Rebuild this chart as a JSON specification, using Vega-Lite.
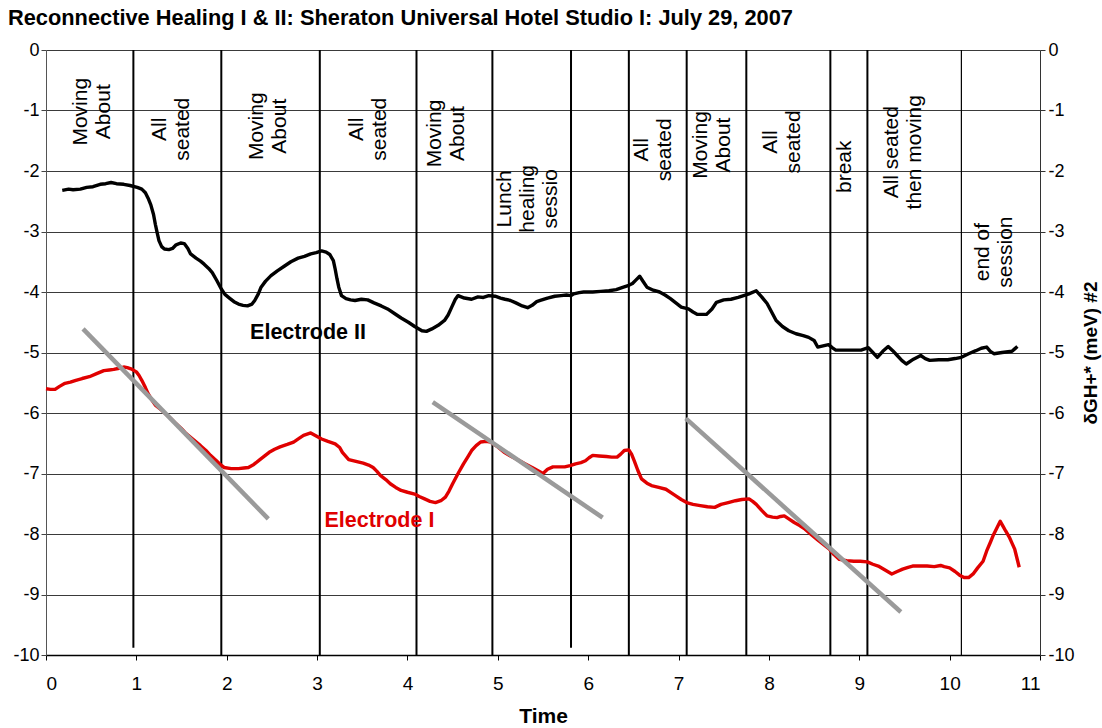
{
  "$schema": "https://vega.github.io/schema/vega-lite/v6.json",
  "width": 994,
  "height": 605,
  "autosize": {"type": "none"},
  "padding": {"left": 46, "top": 50, "right": 62, "bottom": 73},
  "background": "white",
  "title": {
    "text": "Reconnective Healing I & II: Sheraton Universal Hotel Studio I: July 29, 2007",
    "anchor": "start", "frame": "group", "dx": -38, "dy": 22, "offset": 16,
    "font": "Liberation Sans", "fontSize": 21.8, "fontWeight": "bold", "color": "black", "baseline": "alphabetic"
  },
  "config": {
    "view": {"stroke": null},
    "axis": {"labelFont": "Liberation Sans", "titleFont": "Liberation Sans", "labelColor": "black", "titleColor": "black", "tickColor": "#333", "domainColor": "#333", "tickSize": 5}
  },
  "datasets": {
    "events": [
      {"t": 0.967, "bottom": -9.88}, {"t": 1.94, "bottom": -10}, {"t": 3.03, "bottom": -10}, {"t": 4.10, "bottom": -10},
      {"t": 4.94, "bottom": -10}, {"t": 5.81, "bottom": -9.88}, {"t": 6.45, "bottom": -10}, {"t": 7.09, "bottom": -10},
      {"t": 7.75, "bottom": -10}, {"t": 8.68, "bottom": -10}, {"t": 9.09, "bottom": -10}, {"t": 10.13, "bottom": -10}
    ],
    "traces": [
      {"series": "Electrode II", "t": 0.18, "v": -2.32}, {"series": "Electrode II", "t": 0.25, "v": -2.30}, {"series": "Electrode II", "t": 0.30, "v": -2.31}, {"series": "Electrode II", "t": 0.38, "v": -2.30},
      {"series": "Electrode II", "t": 0.45, "v": -2.27}, {"series": "Electrode II", "t": 0.52, "v": -2.26}, {"series": "Electrode II", "t": 0.60, "v": -2.22}, {"series": "Electrode II", "t": 0.66, "v": -2.21},
      {"series": "Electrode II", "t": 0.72, "v": -2.19}, {"series": "Electrode II", "t": 0.78, "v": -2.21}, {"series": "Electrode II", "t": 0.86, "v": -2.22}, {"series": "Electrode II", "t": 0.93, "v": -2.24},
      {"series": "Electrode II", "t": 1.01, "v": -2.27}, {"series": "Electrode II", "t": 1.06, "v": -2.30}, {"series": "Electrode II", "t": 1.10, "v": -2.36}, {"series": "Electrode II", "t": 1.13, "v": -2.45},
      {"series": "Electrode II", "t": 1.16, "v": -2.56}, {"series": "Electrode II", "t": 1.19, "v": -2.72}, {"series": "Electrode II", "t": 1.21, "v": -2.88}, {"series": "Electrode II", "t": 1.23, "v": -3.02},
      {"series": "Electrode II", "t": 1.25, "v": -3.15}, {"series": "Electrode II", "t": 1.28, "v": -3.25}, {"series": "Electrode II", "t": 1.31, "v": -3.29}, {"series": "Electrode II", "t": 1.36, "v": -3.30},
      {"series": "Electrode II", "t": 1.40, "v": -3.28}, {"series": "Electrode II", "t": 1.44, "v": -3.22}, {"series": "Electrode II", "t": 1.49, "v": -3.19}, {"series": "Electrode II", "t": 1.53, "v": -3.20},
      {"series": "Electrode II", "t": 1.57, "v": -3.28}, {"series": "Electrode II", "t": 1.60, "v": -3.37}, {"series": "Electrode II", "t": 1.66, "v": -3.44}, {"series": "Electrode II", "t": 1.71, "v": -3.49},
      {"series": "Electrode II", "t": 1.75, "v": -3.54}, {"series": "Electrode II", "t": 1.80, "v": -3.61}, {"series": "Electrode II", "t": 1.84, "v": -3.68}, {"series": "Electrode II", "t": 1.89, "v": -3.81},
      {"series": "Electrode II", "t": 1.94, "v": -3.95}, {"series": "Electrode II", "t": 1.98, "v": -4.04}, {"series": "Electrode II", "t": 2.03, "v": -4.10}, {"series": "Electrode II", "t": 2.08, "v": -4.16},
      {"series": "Electrode II", "t": 2.13, "v": -4.20}, {"series": "Electrode II", "t": 2.18, "v": -4.22}, {"series": "Electrode II", "t": 2.23, "v": -4.23}, {"series": "Electrode II", "t": 2.28, "v": -4.20},
      {"series": "Electrode II", "t": 2.31, "v": -4.14}, {"series": "Electrode II", "t": 2.35, "v": -4.03}, {"series": "Electrode II", "t": 2.38, "v": -3.92}, {"series": "Electrode II", "t": 2.43, "v": -3.82},
      {"series": "Electrode II", "t": 2.49, "v": -3.73}, {"series": "Electrode II", "t": 2.56, "v": -3.65}, {"series": "Electrode II", "t": 2.64, "v": -3.57}, {"series": "Electrode II", "t": 2.71, "v": -3.50},
      {"series": "Electrode II", "t": 2.79, "v": -3.44}, {"series": "Electrode II", "t": 2.86, "v": -3.41}, {"series": "Electrode II", "t": 2.93, "v": -3.37}, {"series": "Electrode II", "t": 2.99, "v": -3.35},
      {"series": "Electrode II", "t": 3.05, "v": -3.32}, {"series": "Electrode II", "t": 3.10, "v": -3.34}, {"series": "Electrode II", "t": 3.14, "v": -3.38}, {"series": "Electrode II", "t": 3.18, "v": -3.48},
      {"series": "Electrode II", "t": 3.20, "v": -3.62}, {"series": "Electrode II", "t": 3.22, "v": -3.78}, {"series": "Electrode II", "t": 3.24, "v": -3.92}, {"series": "Electrode II", "t": 3.27, "v": -4.06},
      {"series": "Electrode II", "t": 3.32, "v": -4.11}, {"series": "Electrode II", "t": 3.37, "v": -4.13}, {"series": "Electrode II", "t": 3.42, "v": -4.14}, {"series": "Electrode II", "t": 3.49, "v": -4.12},
      {"series": "Electrode II", "t": 3.56, "v": -4.13}, {"series": "Electrode II", "t": 3.63, "v": -4.18}, {"series": "Electrode II", "t": 3.71, "v": -4.23}, {"series": "Electrode II", "t": 3.78, "v": -4.28},
      {"series": "Electrode II", "t": 3.86, "v": -4.36}, {"series": "Electrode II", "t": 3.93, "v": -4.43}, {"series": "Electrode II", "t": 4.01, "v": -4.50}, {"series": "Electrode II", "t": 4.08, "v": -4.57},
      {"series": "Electrode II", "t": 4.16, "v": -4.64}, {"series": "Electrode II", "t": 4.21, "v": -4.65}, {"series": "Electrode II", "t": 4.27, "v": -4.61}, {"series": "Electrode II", "t": 4.34, "v": -4.55},
      {"series": "Electrode II", "t": 4.41, "v": -4.47}, {"series": "Electrode II", "t": 4.45, "v": -4.38}, {"series": "Electrode II", "t": 4.49, "v": -4.25}, {"series": "Electrode II", "t": 4.53, "v": -4.12},
      {"series": "Electrode II", "t": 4.56, "v": -4.06}, {"series": "Electrode II", "t": 4.63, "v": -4.10}, {"series": "Electrode II", "t": 4.71, "v": -4.12}, {"series": "Electrode II", "t": 4.78, "v": -4.08},
      {"series": "Electrode II", "t": 4.84, "v": -4.09}, {"series": "Electrode II", "t": 4.90, "v": -4.06}, {"series": "Electrode II", "t": 4.97, "v": -4.07}, {"series": "Electrode II", "t": 5.03, "v": -4.10},
      {"series": "Electrode II", "t": 5.08, "v": -4.12}, {"series": "Electrode II", "t": 5.14, "v": -4.14}, {"series": "Electrode II", "t": 5.20, "v": -4.18}, {"series": "Electrode II", "t": 5.27, "v": -4.23},
      {"series": "Electrode II", "t": 5.33, "v": -4.26}, {"series": "Electrode II", "t": 5.38, "v": -4.22}, {"series": "Electrode II", "t": 5.43, "v": -4.16}, {"series": "Electrode II", "t": 5.47, "v": -4.14},
      {"series": "Electrode II", "t": 5.55, "v": -4.10}, {"series": "Electrode II", "t": 5.63, "v": -4.07}, {"series": "Electrode II", "t": 5.70, "v": -4.06}, {"series": "Electrode II", "t": 5.76, "v": -4.05},
      {"series": "Electrode II", "t": 5.81, "v": -4.06}, {"series": "Electrode II", "t": 5.84, "v": -4.03}, {"series": "Electrode II", "t": 5.90, "v": -4.01}, {"series": "Electrode II", "t": 5.95, "v": -4.00},
      {"series": "Electrode II", "t": 6.05, "v": -4.00}, {"series": "Electrode II", "t": 6.14, "v": -3.99}, {"series": "Electrode II", "t": 6.23, "v": -3.98}, {"series": "Electrode II", "t": 6.31, "v": -3.96},
      {"series": "Electrode II", "t": 6.39, "v": -3.92}, {"series": "Electrode II", "t": 6.45, "v": -3.89}, {"series": "Electrode II", "t": 6.49, "v": -3.86}, {"series": "Electrode II", "t": 6.53, "v": -3.80},
      {"series": "Electrode II", "t": 6.57, "v": -3.74}, {"series": "Electrode II", "t": 6.61, "v": -3.83}, {"series": "Electrode II", "t": 6.65, "v": -3.92}, {"series": "Electrode II", "t": 6.72, "v": -3.97},
      {"series": "Electrode II", "t": 6.79, "v": -4.00}, {"series": "Electrode II", "t": 6.85, "v": -4.05}, {"series": "Electrode II", "t": 6.91, "v": -4.11}, {"series": "Electrode II", "t": 6.97, "v": -4.18},
      {"series": "Electrode II", "t": 7.03, "v": -4.25}, {"series": "Electrode II", "t": 7.11, "v": -4.28}, {"series": "Electrode II", "t": 7.16, "v": -4.33}, {"series": "Electrode II", "t": 7.21, "v": -4.37},
      {"series": "Electrode II", "t": 7.31, "v": -4.37}, {"series": "Electrode II", "t": 7.37, "v": -4.28}, {"series": "Electrode II", "t": 7.42, "v": -4.17}, {"series": "Electrode II", "t": 7.50, "v": -4.13},
      {"series": "Electrode II", "t": 7.58, "v": -4.12}, {"series": "Electrode II", "t": 7.66, "v": -4.09}, {"series": "Electrode II", "t": 7.72, "v": -4.06}, {"series": "Electrode II", "t": 7.78, "v": -4.03},
      {"series": "Electrode II", "t": 7.86, "v": -3.98}, {"series": "Electrode II", "t": 7.92, "v": -4.08}, {"series": "Electrode II", "t": 7.98, "v": -4.19}, {"series": "Electrode II", "t": 8.03, "v": -4.33},
      {"series": "Electrode II", "t": 8.08, "v": -4.47}, {"series": "Electrode II", "t": 8.15, "v": -4.57}, {"series": "Electrode II", "t": 8.22, "v": -4.64}, {"series": "Electrode II", "t": 8.30, "v": -4.69},
      {"series": "Electrode II", "t": 8.38, "v": -4.72}, {"series": "Electrode II", "t": 8.44, "v": -4.75}, {"series": "Electrode II", "t": 8.50, "v": -4.80}, {"series": "Electrode II", "t": 8.54, "v": -4.91},
      {"series": "Electrode II", "t": 8.60, "v": -4.89}, {"series": "Electrode II", "t": 8.66, "v": -4.87}, {"series": "Electrode II", "t": 8.70, "v": -4.92}, {"series": "Electrode II", "t": 8.74, "v": -4.96},
      {"series": "Electrode II", "t": 8.85, "v": -4.96}, {"series": "Electrode II", "t": 8.95, "v": -4.96}, {"series": "Electrode II", "t": 9.02, "v": -4.96}, {"series": "Electrode II", "t": 9.10, "v": -4.92},
      {"series": "Electrode II", "t": 9.15, "v": -5.00}, {"series": "Electrode II", "t": 9.20, "v": -5.08}, {"series": "Electrode II", "t": 9.26, "v": -4.98}, {"series": "Electrode II", "t": 9.32, "v": -4.90},
      {"series": "Electrode II", "t": 9.37, "v": -4.97}, {"series": "Electrode II", "t": 9.42, "v": -5.05}, {"series": "Electrode II", "t": 9.47, "v": -5.13}, {"series": "Electrode II", "t": 9.52, "v": -5.19},
      {"series": "Electrode II", "t": 9.60, "v": -5.11}, {"series": "Electrode II", "t": 9.68, "v": -5.05}, {"series": "Electrode II", "t": 9.73, "v": -5.10}, {"series": "Electrode II", "t": 9.78, "v": -5.13},
      {"series": "Electrode II", "t": 9.88, "v": -5.12}, {"series": "Electrode II", "t": 9.98, "v": -5.12}, {"series": "Electrode II", "t": 10.06, "v": -5.10}, {"series": "Electrode II", "t": 10.13, "v": -5.08},
      {"series": "Electrode II", "t": 10.21, "v": -5.02}, {"series": "Electrode II", "t": 10.29, "v": -4.97}, {"series": "Electrode II", "t": 10.35, "v": -4.93}, {"series": "Electrode II", "t": 10.41, "v": -4.91},
      {"series": "Electrode II", "t": 10.45, "v": -4.98}, {"series": "Electrode II", "t": 10.49, "v": -5.02}, {"series": "Electrode II", "t": 10.58, "v": -5.00}, {"series": "Electrode II", "t": 10.69, "v": -4.98},
      {"series": "Electrode II", "t": 10.72, "v": -4.94}, {"series": "Electrode II", "t": 10.75, "v": -4.90},
      {"series": "Electrode I", "t": 0.00, "v": -5.60}, {"series": "Electrode I", "t": 0.05, "v": -5.61}, {"series": "Electrode I", "t": 0.10, "v": -5.61}, {"series": "Electrode I", "t": 0.15, "v": -5.56},
      {"series": "Electrode I", "t": 0.21, "v": -5.51}, {"series": "Electrode I", "t": 0.27, "v": -5.49}, {"series": "Electrode I", "t": 0.33, "v": -5.46}, {"series": "Electrode I", "t": 0.40, "v": -5.43},
      {"series": "Electrode I", "t": 0.48, "v": -5.40}, {"series": "Electrode I", "t": 0.56, "v": -5.35}, {"series": "Electrode I", "t": 0.64, "v": -5.30}, {"series": "Electrode I", "t": 0.70, "v": -5.29},
      {"series": "Electrode I", "t": 0.75, "v": -5.28}, {"series": "Electrode I", "t": 0.81, "v": -5.26}, {"series": "Electrode I", "t": 0.86, "v": -5.24}, {"series": "Electrode I", "t": 0.90, "v": -5.25},
      {"series": "Electrode I", "t": 0.94, "v": -5.27}, {"series": "Electrode I", "t": 1.00, "v": -5.32}, {"series": "Electrode I", "t": 1.03, "v": -5.38}, {"series": "Electrode I", "t": 1.06, "v": -5.46},
      {"series": "Electrode I", "t": 1.10, "v": -5.58}, {"series": "Electrode I", "t": 1.13, "v": -5.68}, {"series": "Electrode I", "t": 1.17, "v": -5.78}, {"series": "Electrode I", "t": 1.21, "v": -5.87},
      {"series": "Electrode I", "t": 1.27, "v": -5.94}, {"series": "Electrode I", "t": 1.32, "v": -6.01}, {"series": "Electrode I", "t": 1.38, "v": -6.09}, {"series": "Electrode I", "t": 1.44, "v": -6.18},
      {"series": "Electrode I", "t": 1.50, "v": -6.26}, {"series": "Electrode I", "t": 1.55, "v": -6.34}, {"series": "Electrode I", "t": 1.63, "v": -6.44}, {"series": "Electrode I", "t": 1.71, "v": -6.54},
      {"series": "Electrode I", "t": 1.77, "v": -6.62}, {"series": "Electrode I", "t": 1.82, "v": -6.70}, {"series": "Electrode I", "t": 1.88, "v": -6.78}, {"series": "Electrode I", "t": 1.92, "v": -6.84},
      {"series": "Electrode I", "t": 1.97, "v": -6.90}, {"series": "Electrode I", "t": 2.05, "v": -6.92}, {"series": "Electrode I", "t": 2.13, "v": -6.92}, {"series": "Electrode I", "t": 2.19, "v": -6.91},
      {"series": "Electrode I", "t": 2.24, "v": -6.90}, {"series": "Electrode I", "t": 2.30, "v": -6.85}, {"series": "Electrode I", "t": 2.36, "v": -6.78}, {"series": "Electrode I", "t": 2.42, "v": -6.71},
      {"series": "Electrode I", "t": 2.47, "v": -6.65}, {"series": "Electrode I", "t": 2.53, "v": -6.60}, {"series": "Electrode I", "t": 2.59, "v": -6.56}, {"series": "Electrode I", "t": 2.67, "v": -6.52},
      {"series": "Electrode I", "t": 2.74, "v": -6.48}, {"series": "Electrode I", "t": 2.80, "v": -6.42}, {"series": "Electrode I", "t": 2.85, "v": -6.37}, {"series": "Electrode I", "t": 2.93, "v": -6.33},
      {"series": "Electrode I", "t": 2.99, "v": -6.38}, {"series": "Electrode I", "t": 3.05, "v": -6.43}, {"series": "Electrode I", "t": 3.12, "v": -6.47}, {"series": "Electrode I", "t": 3.20, "v": -6.51},
      {"series": "Electrode I", "t": 3.25, "v": -6.57}, {"series": "Electrode I", "t": 3.28, "v": -6.65}, {"series": "Electrode I", "t": 3.35, "v": -6.77}, {"series": "Electrode I", "t": 3.43, "v": -6.80},
      {"series": "Electrode I", "t": 3.51, "v": -6.83}, {"series": "Electrode I", "t": 3.57, "v": -6.86}, {"series": "Electrode I", "t": 3.62, "v": -6.90}, {"series": "Electrode I", "t": 3.66, "v": -6.96},
      {"series": "Electrode I", "t": 3.70, "v": -7.03}, {"series": "Electrode I", "t": 3.76, "v": -7.10}, {"series": "Electrode I", "t": 3.81, "v": -7.17}, {"series": "Electrode I", "t": 3.87, "v": -7.23},
      {"series": "Electrode I", "t": 3.93, "v": -7.28}, {"series": "Electrode I", "t": 4.00, "v": -7.31}, {"series": "Electrode I", "t": 4.08, "v": -7.34}, {"series": "Electrode I", "t": 4.13, "v": -7.38},
      {"series": "Electrode I", "t": 4.19, "v": -7.42}, {"series": "Electrode I", "t": 4.25, "v": -7.46}, {"series": "Electrode I", "t": 4.31, "v": -7.48}, {"series": "Electrode I", "t": 4.37, "v": -7.45},
      {"series": "Electrode I", "t": 4.42, "v": -7.39}, {"series": "Electrode I", "t": 4.46, "v": -7.29}, {"series": "Electrode I", "t": 4.50, "v": -7.17}, {"series": "Electrode I", "t": 4.56, "v": -7.00},
      {"series": "Electrode I", "t": 4.62, "v": -6.84}, {"series": "Electrode I", "t": 4.67, "v": -6.72}, {"series": "Electrode I", "t": 4.71, "v": -6.62}, {"series": "Electrode I", "t": 4.76, "v": -6.54},
      {"series": "Electrode I", "t": 4.81, "v": -6.48}, {"series": "Electrode I", "t": 4.87, "v": -6.47}, {"series": "Electrode I", "t": 4.92, "v": -6.48}, {"series": "Electrode I", "t": 5.00, "v": -6.56},
      {"series": "Electrode I", "t": 5.07, "v": -6.65}, {"series": "Electrode I", "t": 5.15, "v": -6.72}, {"series": "Electrode I", "t": 5.23, "v": -6.78}, {"series": "Electrode I", "t": 5.30, "v": -6.84},
      {"series": "Electrode I", "t": 5.38, "v": -6.90}, {"series": "Electrode I", "t": 5.44, "v": -6.95}, {"series": "Electrode I", "t": 5.50, "v": -7.00}, {"series": "Electrode I", "t": 5.55, "v": -6.93},
      {"series": "Electrode I", "t": 5.61, "v": -6.89}, {"series": "Electrode I", "t": 5.68, "v": -6.89}, {"series": "Electrode I", "t": 5.74, "v": -6.89}, {"series": "Electrode I", "t": 5.80, "v": -6.87},
      {"series": "Electrode I", "t": 5.86, "v": -6.84}, {"series": "Electrode I", "t": 5.92, "v": -6.82}, {"series": "Electrode I", "t": 5.97, "v": -6.79}, {"series": "Electrode I", "t": 6.01, "v": -6.74},
      {"series": "Electrode I", "t": 6.05, "v": -6.70}, {"series": "Electrode I", "t": 6.12, "v": -6.71}, {"series": "Electrode I", "t": 6.20, "v": -6.72}, {"series": "Electrode I", "t": 6.26, "v": -6.73},
      {"series": "Electrode I", "t": 6.32, "v": -6.73}, {"series": "Electrode I", "t": 6.36, "v": -6.68}, {"series": "Electrode I", "t": 6.40, "v": -6.62}, {"series": "Electrode I", "t": 6.45, "v": -6.61},
      {"series": "Electrode I", "t": 6.48, "v": -6.68}, {"series": "Electrode I", "t": 6.51, "v": -6.79}, {"series": "Electrode I", "t": 6.55, "v": -6.95}, {"series": "Electrode I", "t": 6.59, "v": -7.09},
      {"series": "Electrode I", "t": 6.65, "v": -7.16}, {"series": "Electrode I", "t": 6.70, "v": -7.20}, {"series": "Electrode I", "t": 6.78, "v": -7.23}, {"series": "Electrode I", "t": 6.86, "v": -7.26},
      {"series": "Electrode I", "t": 6.92, "v": -7.32}, {"series": "Electrode I", "t": 6.97, "v": -7.37}, {"series": "Electrode I", "t": 7.03, "v": -7.43}, {"series": "Electrode I", "t": 7.09, "v": -7.48},
      {"series": "Electrode I", "t": 7.16, "v": -7.51}, {"series": "Electrode I", "t": 7.24, "v": -7.53}, {"series": "Electrode I", "t": 7.32, "v": -7.55}, {"series": "Electrode I", "t": 7.40, "v": -7.56},
      {"series": "Electrode I", "t": 7.47, "v": -7.51}, {"series": "Electrode I", "t": 7.55, "v": -7.48}, {"series": "Electrode I", "t": 7.63, "v": -7.45}, {"series": "Electrode I", "t": 7.70, "v": -7.43},
      {"series": "Electrode I", "t": 7.78, "v": -7.42}, {"series": "Electrode I", "t": 7.82, "v": -7.46}, {"series": "Electrode I", "t": 7.86, "v": -7.51}, {"series": "Electrode I", "t": 7.92, "v": -7.61},
      {"series": "Electrode I", "t": 7.98, "v": -7.70}, {"series": "Electrode I", "t": 8.04, "v": -7.72}, {"series": "Electrode I", "t": 8.09, "v": -7.73}, {"series": "Electrode I", "t": 8.13, "v": -7.71},
      {"series": "Electrode I", "t": 8.17, "v": -7.70}, {"series": "Electrode I", "t": 8.22, "v": -7.75}, {"series": "Electrode I", "t": 8.28, "v": -7.81}, {"series": "Electrode I", "t": 8.34, "v": -7.86},
      {"series": "Electrode I", "t": 8.40, "v": -7.92}, {"series": "Electrode I", "t": 8.47, "v": -8.01}, {"series": "Electrode I", "t": 8.55, "v": -8.11}, {"series": "Electrode I", "t": 8.61, "v": -8.18},
      {"series": "Electrode I", "t": 8.67, "v": -8.25}, {"series": "Electrode I", "t": 8.72, "v": -8.34}, {"series": "Electrode I", "t": 8.78, "v": -8.42}, {"series": "Electrode I", "t": 8.86, "v": -8.44},
      {"series": "Electrode I", "t": 8.94, "v": -8.45}, {"series": "Electrode I", "t": 9.01, "v": -8.45}, {"series": "Electrode I", "t": 9.09, "v": -8.46}, {"series": "Electrode I", "t": 9.15, "v": -8.50},
      {"series": "Electrode I", "t": 9.21, "v": -8.53}, {"series": "Electrode I", "t": 9.29, "v": -8.60}, {"series": "Electrode I", "t": 9.36, "v": -8.66}, {"series": "Electrode I", "t": 9.42, "v": -8.62},
      {"series": "Electrode I", "t": 9.48, "v": -8.58}, {"series": "Electrode I", "t": 9.54, "v": -8.55}, {"series": "Electrode I", "t": 9.59, "v": -8.53}, {"series": "Electrode I", "t": 9.67, "v": -8.53},
      {"series": "Electrode I", "t": 9.75, "v": -8.53}, {"series": "Electrode I", "t": 9.83, "v": -8.54}, {"series": "Electrode I", "t": 9.90, "v": -8.52}, {"series": "Electrode I", "t": 9.94, "v": -8.54},
      {"series": "Electrode I", "t": 10.00, "v": -8.56}, {"series": "Electrode I", "t": 10.06, "v": -8.62}, {"series": "Electrode I", "t": 10.11, "v": -8.68}, {"series": "Electrode I", "t": 10.16, "v": -8.72},
      {"series": "Electrode I", "t": 10.21, "v": -8.72}, {"series": "Electrode I", "t": 10.26, "v": -8.66}, {"series": "Electrode I", "t": 10.31, "v": -8.56}, {"series": "Electrode I", "t": 10.37, "v": -8.45},
      {"series": "Electrode I", "t": 10.41, "v": -8.28}, {"series": "Electrode I", "t": 10.45, "v": -8.14}, {"series": "Electrode I", "t": 10.48, "v": -8.03}, {"series": "Electrode I", "t": 10.52, "v": -7.91},
      {"series": "Electrode I", "t": 10.56, "v": -7.79}, {"series": "Electrode I", "t": 10.59, "v": -7.87}, {"series": "Electrode I", "t": 10.62, "v": -7.95}, {"series": "Electrode I", "t": 10.66, "v": -8.05},
      {"series": "Electrode I", "t": 10.69, "v": -8.15}, {"series": "Electrode I", "t": 10.72, "v": -8.25}, {"series": "Electrode I", "t": 10.73, "v": -8.31}, {"series": "Electrode I", "t": 10.75, "v": -8.43},
      {"series": "Electrode I", "t": 10.77, "v": -8.55}
    ],
    "trends": [
      {"seg": 1, "t": 0.41, "v": -4.61}, {"seg": 1, "t": 2.46, "v": -7.75},
      {"seg": 2, "t": 4.28, "v": -5.82}, {"seg": 2, "t": 6.16, "v": -7.73},
      {"seg": 3, "t": 7.08, "v": -6.09}, {"seg": 3, "t": 9.46, "v": -9.29}
    ],
    "labels": [
      {"t": 0.387, "v": -1.02, "text": "Moving\nAbout"},
      {"t": 1.265, "v": -1.31, "text": "All\nseated"},
      {"t": 2.335, "v": -1.26, "text": "Moving\nAbout"},
      {"t": 3.447, "v": -1.31, "text": "All\nseated"},
      {"t": 4.305, "v": -1.38, "text": "Moving\nAbout"},
      {"t": 5.074, "v": -2.46, "text": "Lunch\nhealing\nsessio"},
      {"t": 6.596, "v": -1.65, "text": "All\nseated"},
      {"t": 7.243, "v": -1.57, "text": "Moving\nAbout"},
      {"t": 8.018, "v": -1.52, "text": "All\nseated"},
      {"t": 8.842, "v": -1.93, "text": "break"},
      {"t": 9.357, "v": -1.69, "text": "All seated\nthen moving"},
      {"t": 10.37, "v": -3.34, "text": "end of\nsession"}
    ],
    "names": [
      {"series": "Electrode II", "t": 2.90, "v": -4.68},
      {"series": "Electrode I", "t": 3.69, "v": -7.78}
    ]
  },
  "resolve": {"axis": {"y": "independent"}},
  "layer": [
    {
      "data": {"name": "events"},
      "transform": [{"filter": "datum.t < 10"}],
      "mark": {"type": "rule", "color": "black", "strokeWidth": 2},
      "encoding": {
        "x": {"field": "t", "type": "quantitative", "title": "Time", "scale": {"domain": [0, 11], "nice": false}},
        "y": {"field": "bottom", "type": "quantitative", "scale": {"domain": [-10, 0], "nice": false}, "axis": null},
        "y2": {"datum": 0}
      }
    },
    {
      "data": {"name": "events"},
      "transform": [{"filter": "datum.t > 10"}],
      "mark": {"type": "rule", "color": "black", "strokeWidth": 1.2},
      "encoding": {
        "x": {"field": "t", "type": "quantitative", "title": "Time"},
        "y": {"field": "bottom", "type": "quantitative", "axis": null},
        "y2": {"datum": 0}
      }
    },
    {
      "data": {"name": "traces"},
      "mark": {"type": "line", "strokeWidth": 3.4, "strokeJoin": "round"},
      "encoding": {
        "x": {"field": "t", "type": "quantitative", "title": "Time",
          "axis": {"values": [0,1,2,3,4,5,6,7,8,9,10,11], "grid": false, "labelFontSize": 19, "labelPadding": 14, "titleFontSize": 21, "titleFontWeight": "bold", "titlePadding": 12, "domainColor": "black", "domainWidth": 1.5, "tickColor": "black", "labelExpr": "'' + datum.value"}},
        "y": {"field": "v", "type": "quantitative", "title": null,
          "axis": {"orient": "left", "values": [-10,-9,-8,-7,-6,-5,-4,-3,-2,-1,0], "grid": true, "gridColor": "#3a3a3a", "gridWidth": 1.2, "labelFontSize": 18, "labelPadding": 2, "domainColor": "#555", "tickColor": "#444", "labelExpr": "'' + datum.value"}},
        "color": {"field": "series", "type": "nominal", "scale": {"domain": ["Electrode II", "Electrode I"], "range": ["#000000", "#e00000"]}, "legend": null},
        "order": {"field": "t", "type": "quantitative"}
      }
    },
    {
      "data": {"name": "trends"},
      "mark": {"type": "line", "color": "#9a9a9a", "strokeWidth": 4.5},
      "encoding": {
        "x": {"field": "t", "type": "quantitative", "title": "Time"},
        "y": {"field": "v", "type": "quantitative", "title": "δGH+* (meV) #2",
          "axis": {"orient": "right", "values": [-10,-9,-8,-7,-6,-5,-4,-3,-2,-1,0], "grid": false, "labelFontSize": 18, "labelPadding": 3, "titleFontSize": 19, "titleFontWeight": "bold", "titleAngle": 270, "titlePadding": 26, "domainColor": "#333", "tickColor": "#333", "labelExpr": "'' + datum.value"}},
        "detail": {"field": "seg", "type": "nominal"}
      }
    },
    {
      "data": {"name": "labels"},
      "mark": {"type": "text", "angle": 270, "align": "center", "baseline": "middle", "lineBreak": "\n", "font": "Liberation Sans", "fontSize": 21, "lineHeight": 23, "color": "black"},
      "encoding": {
        "x": {"field": "t", "type": "quantitative", "title": "Time"},
        "y": {"field": "v", "type": "quantitative", "axis": null},
        "text": {"field": "text"}
      }
    },
    {
      "data": {"name": "names"},
      "mark": {"type": "text", "align": "center", "baseline": "middle", "font": "Liberation Sans", "fontSize": 21.5, "fontWeight": "bold"},
      "encoding": {
        "x": {"field": "t", "type": "quantitative", "title": "Time"},
        "y": {"field": "v", "type": "quantitative", "axis": null},
        "text": {"field": "series"},
        "color": {"field": "series", "type": "nominal", "legend": null}
      }
    }
  ]
}
